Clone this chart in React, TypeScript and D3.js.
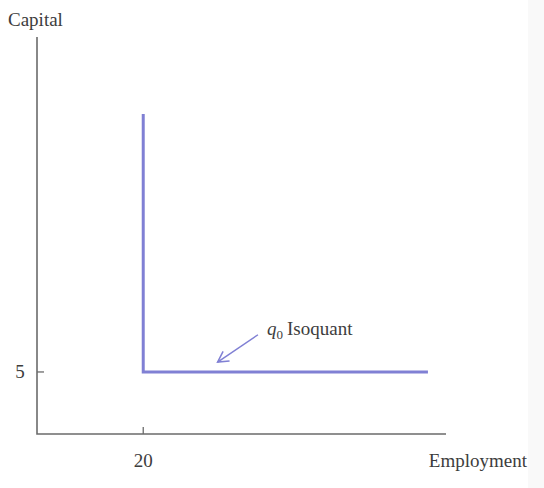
import React from "react";
import * as d3 from "d3";

const xTicks = [20];
const yTicks = [5];
const isoquant: [number, number][] = [
  [20, 25.8],
  [20, 5],
  [73.6, 5],
];
const arrowFrom: [number, number] = [41.6, 8.0];
const arrowTo: [number, number] = [34.0, 5.8];
const labels = { x: "Employment", y: "Capital", curve: "Isoquant" };

export default function App() {
  const W = 544, H = 488;
  const x = d3.scaleLinear().domain([0, 77]).range([37, 446]);
  const y = d3.scaleLinear().domain([0, 32]).range([434, 37]);
  const line = d3.line<[number, number]>().x(d => x(d[0])).y(d => y(d[1]));
  const font = "'Liberation Serif', 'Times New Roman', serif";
  const axisColor = "#6b6b6b";
  const textColor = "#3d3d3d";
  const curveColor = "#8080d4";
  const fs = 19;
  const ax1 = x(arrowFrom[0]), ay1 = y(arrowFrom[1]);
  const ax2 = x(arrowTo[0]), ay2 = y(arrowTo[1]);
  const ang = Math.atan2(ay2 - ay1, ax2 - ax1);
  const hl = 12, hw = 0.5;
  const h1 = [ax2 - hl * Math.cos(ang - hw), ay2 - hl * Math.sin(ang - hw)];
  const h2 = [ax2 - hl * Math.cos(ang + hw), ay2 - hl * Math.sin(ang + hw)];
  return (
    <svg width={W} height={H} style={{ position: "absolute", left: 0, top: 0, display: "block" }}>
      <rect x={0} y={0} width={W} height={H} fill="#ffffff" />
      <rect x={528} y={0} width={W - 528} height={H} fill="#f9f9f9" />
      {/* axes */}
      <path d={`M${x(0)},${y(32)}V${y(0)}H${x(77)}`} fill="none" stroke={axisColor} strokeWidth={1.6} />
      {xTicks.map(t => (
        <g key={"xt" + t}>
          <line x1={x(t)} x2={x(t)} y1={y(0)} y2={y(0) - 7} stroke={axisColor} strokeWidth={1.3} />
          <text x={x(t)} y={y(0) + 33} textAnchor="middle" fontFamily={font} fontSize={fs} fill={textColor}>{t}</text>
        </g>
      ))}
      {yTicks.map(t => (
        <g key={"yt" + t}>
          <line x1={x(0)} x2={x(0) + 7} y1={y(t)} y2={y(t)} stroke={axisColor} strokeWidth={1.3} />
          <text x={20} y={y(t) + 6.5} textAnchor="middle" fontFamily={font} fontSize={fs} fill={textColor}>{t}</text>
        </g>
      ))}
      <text x={8} y={26} fontFamily={font} fontSize={fs} fill={textColor}>{labels.y}</text>
      <text x={527} y={467} textAnchor="end" fontFamily={font} fontSize={fs} fill={textColor}>{labels.x}</text>
      {/* isoquant */}
      <path d={line(isoquant) || ""} fill="none" stroke={curveColor} strokeWidth={3} />
      {/* annotation */}
      <line x1={ax1} y1={ay1} x2={ax2} y2={ay2} stroke={curveColor} strokeWidth={1.5} />
      <path d={`M${h1[0]},${h1[1]}L${ax2},${ay2}L${h2[0]},${h2[1]}`} fill="none" stroke={curveColor} strokeWidth={1.5} />
      <text x={267} y={335} fontFamily={font} fontSize={fs} fill={textColor}>
        <tspan fontStyle="italic">q</tspan>
        <tspan fontSize={13} dy={4}>0</tspan>
        <tspan dy={-4} dx={4}>{labels.curve}</tspan>
      </text>
    </svg>
  );
}
